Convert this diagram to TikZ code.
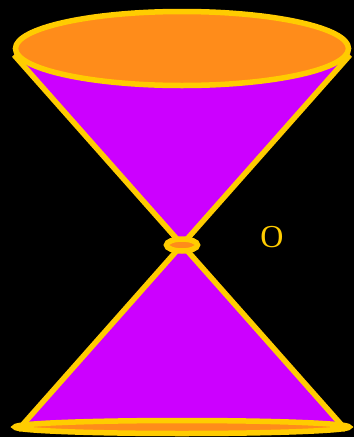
\documentclass[tikz,border=0pt]{standalone}
\usepackage{tikz,xcolor}
\usepackage{fontspec}
\setmainfont{Liberation Serif}
\definecolor{conegold}{HTML}{FFCC00}
\definecolor{coneorange}{HTML}{FF8C1A}
\definecolor{conepurple}{HTML}{CC00FF}

\begin{document}
\begin{tikzpicture}[x=1pt,y=-1pt,
  rim/.style={draw=conegold, fill=coneorange, line width=5.5pt},
  side/.style={draw=conegold, line width=5.5pt}]
  % Draw the black background
 \fill[black] (0,0) rectangle (354,437); \useasboundingbox (0,0) rectangle (354,437);
 \coordinate (apex) at (182,245); \coordinate (tl) at (14,55); \coordinate (tr) at (350,55); \coordinate (bl) at (18,430); \coordinate (br) at (346,430);
  % Fill the two cones
 \fill[conepurple] (14,48) -- (350,48) -- (tr) -- (apex) -- (tl) -- cycle; \fill[conepurple] (bl) -- (br) -- (apex) -- cycle;
  % Draw the sides
 \draw[side] (tl) -- (br); \draw[side] (tr) -- (bl);
  % Draw the rims
 \filldraw[rim] (182,48.5) ellipse (166.5 and 37); \filldraw[rim] (apex) ellipse (15.5 and 6); \filldraw[rim] (182,427) ellipse (167 and 6.5);
   \node[text=conegold, font=\fontsize{32}{32}\selectfont] (origin) at (272,237) {O};
\end{tikzpicture}
\end{document}
